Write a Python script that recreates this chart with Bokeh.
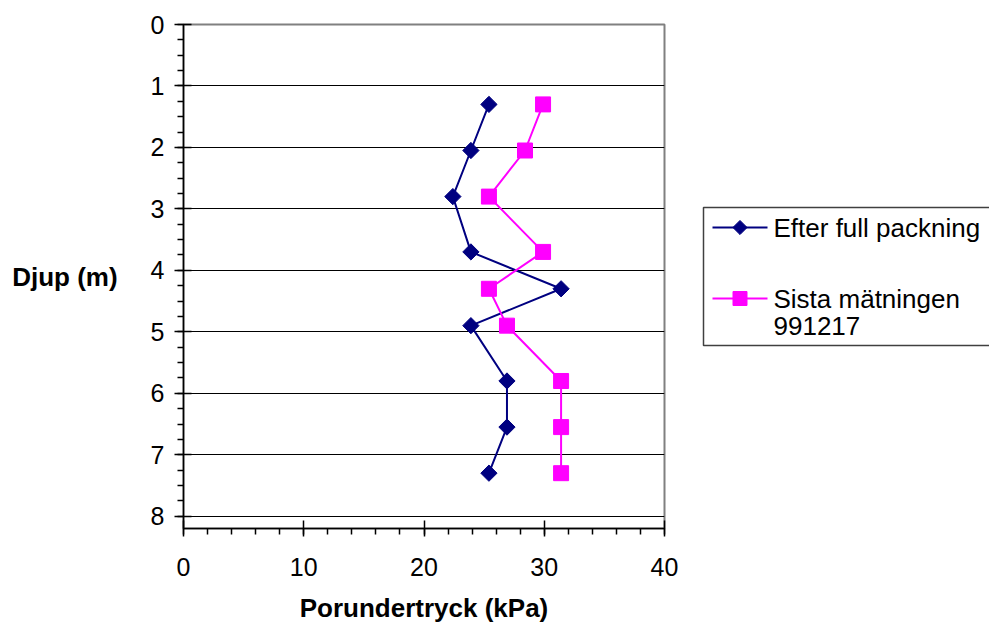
import math
from bokeh.plotting import figure
from bokeh.layouts import row
from bokeh.models import Range1d, FixedTicker
from bokeh.core.properties import value
from bokeh.embed import file_html
from bokeh.resources import INLINE

# ---- data ----
depth_m = [1.3, 2.05, 2.8, 3.7, 4.3, 4.9, 5.8, 6.55, 7.3]
efter_full_packning = [25.4, 23.9, 22.4, 23.9, 31.4, 23.9, 26.9, 26.9, 25.4]
sista_matningen = [29.9, 28.4, 25.4, 29.9, 25.4, 26.9, 31.4, 31.4, 31.4]
series_names = ["Efter full packning", "Sista mätningen", "991217"]
series_colors = ["#000080", "#FF00FF"]
x_ticks = [0, 10, 20, 30, 40]
x_minor_ticks = list(range(0, 41, 2))
y_ticks = [0, 1, 2, 3, 4, 5, 6, 7, 8]
y_minor_ticks = [i * 0.25 for i in range(0, 33)]
x_title = "Porundertryck (kPa)"
y_title = "Djup (m)"

FONT = "Liberation Sans"

p = figure(width=689, height=626, output_backend="svg", toolbar_location=None,
           x_range=Range1d(0, 40), y_range=Range1d(8.2, 0),
           min_border_left=183, min_border_right=25,
           min_border_top=24, min_border_bottom=98,
           background_fill_color="white", border_fill_color="white")

p.outline_line_color = "#808080"
p.outline_line_width = 2

# grids
p.xgrid.visible = False
p.ygrid.ticker = FixedTicker(ticks=y_ticks[1:])
p.ygrid.grid_line_color = "black"
p.ygrid.grid_line_width = 1

# axes
for ax in (p.xaxis[0], p.yaxis[0]):
    ax.axis_line_color = "black"
    ax.axis_line_width = 1.5
    ax.major_tick_line_color = "black"
    ax.major_tick_line_width = 1.5
    ax.minor_tick_line_color = "black"
    ax.minor_tick_line_width = 1.5
    ax.major_tick_in = 8
    ax.major_tick_out = 8
    ax.minor_tick_in = 0
    ax.minor_tick_out = 6
    ax.major_label_text_font = FONT
    ax.major_label_text_font_size = "25px"
    ax.major_label_text_color = "black"
    ax.axis_label_text_font = FONT
    ax.axis_label_text_font_size = "26px"
    ax.axis_label_text_font_style = "bold"
    ax.axis_label_text_color = "black"

xa = p.xaxis[0]
ya = p.yaxis[0]
xa.ticker = FixedTicker(ticks=x_ticks, minor_ticks=x_minor_ticks)
ya.ticker = FixedTicker(ticks=y_ticks, minor_ticks=y_minor_ticks)
xa.major_label_standoff = 21
ya.major_label_standoff = 10
ya.major_tick_out = 9

xa.axis_label = x_title
xa.axis_label_standoff = 14
ya.axis_label = y_title
ya.axis_label_orientation = "horizontal"
ya.axis_label_standoff = 30

# series
p.line(efter_full_packning, depth_m, line_color=series_colors[0], line_width=2)
p.scatter(efter_full_packning, depth_m, marker="square", size=11.5,
          angle=math.pi / 4, fill_color=series_colors[0], line_color=series_colors[0])
p.line(sista_matningen, depth_m, line_color=series_colors[1], line_width=2)
p.scatter(sista_matningen, depth_m, marker="square", size=15,
          fill_color=series_colors[1], line_color=series_colors[1])

# ---- legend panel (page-pixel-like coordinates, y downward) ----
lg = figure(width=300, height=626, output_backend="svg", toolbar_location=None,
            x_range=Range1d(0, 300), y_range=Range1d(528, 24),
            x_axis_type=None, y_axis_type=None,
            min_border_left=0, min_border_right=0, min_border_top=24, min_border_bottom=98,
            background_fill_color="white", border_fill_color="white")
lg.outline_line_color = None
lg.grid.visible = False

lg.quad(left=[14], right=[320], top=[207], bottom=[345], fill_color="white",
        line_color="#404040", line_width=1.5)
row_y = [227, 298]
lg.segment(x0=[23, 23], x1=[78, 78], y0=row_y, y1=row_y,
           line_color=series_colors, line_width=2)
lg.scatter([50.5], [row_y[0]], marker="square", size=10, angle=math.pi / 4,
           fill_color=series_colors[0], line_color=series_colors[0])
lg.scatter([50.5], [row_y[1]], marker="square", size=14,
           fill_color=series_colors[1], line_color=series_colors[1])
lg.text(x=[84, 84, 84], y=[227, 298, 325], text=series_names,
        text_font=value(FONT), text_font_size="26px", text_color="black",
        text_align="left", text_baseline="middle")

layout = row(p, lg, spacing=0)
open("out.html", "w").write(file_html(layout, INLINE))
